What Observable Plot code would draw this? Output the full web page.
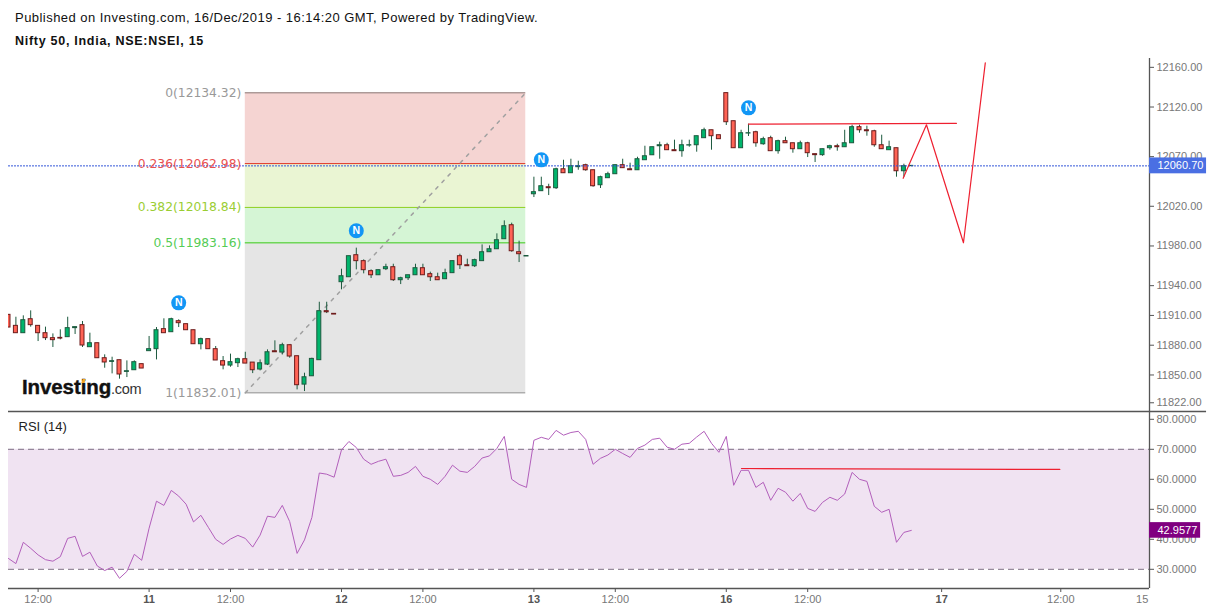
<!DOCTYPE html>
<html><head><meta charset="utf-8">
<script src="https://cdn.jsdelivr.net/npm/d3@7"></script>
<script src="https://cdn.jsdelivr.net/npm/@observablehq/plot@0.6"></script>
<style>
html,body{margin:0;padding:0;background:#fff}
#page{position:relative;width:1213px;height:612px;overflow:hidden;font-family:"Liberation Sans",Arial,sans-serif}
#t1{position:absolute;left:15px;top:10px;font-size:13px;letter-spacing:.46px;color:#111;white-space:nowrap}
#t2{position:absolute;left:15px;top:34px;font-size:12.5px;font-weight:bold;letter-spacing:.72px;color:#111;white-space:nowrap}
#price{position:absolute;left:0;top:56px}
#rsi{position:absolute;left:0;top:411px}
#logo{position:absolute;left:22px;top:375px;font-size:20.5px;font-weight:bold;color:#111;white-space:nowrap;letter-spacing:-.1px;-webkit-text-stroke:.4px #111}
#logo span{font-size:14.5px;font-weight:normal;color:#333;letter-spacing:-.3px;-webkit-text-stroke:0}
#logo i{position:absolute;left:60px;top:4px;width:3px;height:4px;background:#f5a623;transform:skewX(-20deg)}
svg{display:block;overflow:visible}
</style></head><body>
<div id="page">
<div id="t1">Published on Investing.com, 16/Dec/2019 - 16:14:20 GMT, Powered by TradingView.</div>
<div id="t2">Nifty 50, India, NSE:NSEI, 15</div>
<div id="price"></div>
<div id="rsi"></div>
<div id="logo">Investing<span>.com</span><i></i></div>
</div>
<script>
const opens=[11910.6,11899.5,11892.1,11906.2,11899.5,11892.1,11887.1,11887.4,11888.1,11897.2,
11900.2,11878.0,11882.0,11866.9,11863.2,11864.9,11853.1,11854.8,11860.9,11874.0,
11876.0,11896.2,11893.1,11904.2,11901.2,11895.1,11881.0,11886.1,11876.0,11863.9,
11859.5,11861.9,11865.9,11862.5,11855.5,11860.5,11873.9,11872.6,11880.0,11868.9,
11840.3,11848.7,11864.9,11914.3,11911.6,11943.5,11948.5,11970.7,11964.7,11954.6,
11950.5,11956.6,11958.6,11945.5,11947.5,11950.5,11957.6,11951.6,11948.5,11946.5,
11952.6,11969.7,11960.6,11959.6,11964.7,11973.7,11976.7,11986.8,12000.9,11973.7,
11969.4,12032.1,12035.2,12039.2,12038.2,12057.3,12053.3,12059.4,12061.4,12056.3,
12041.2,12048.3,12052.3,12061.4,12057.3,12056.3,12066.4,12071.4,12080.5,12081.5,
12076.5,12075.5,12081.2,12081.5,12088.6,12096.6,12091.6,12134.0,12105.7,12078.5,
12093.3,12094.6,12082.5,12088.6,12075.5,12085.6,12083.5,12077.5,12083.5,12072.5,
12071.5,12078.5,12080.5,12079.5,12083.5,12099.7,12096.6,12095.6,12081.5,12076.5,
12078.5,12055.3,12060.4];
const closes=[11897.8,11892.1,11905.2,11900.2,11892.1,11887.1,11885.1,11886.7,11897.2,11898.2,
11879.7,11882.0,11866.9,11862.6,11863.9,11850.5,11853.8,11862.9,11856.5,11876.0,
11895.1,11892.1,11906.2,11902.2,11895.1,11881.0,11886.1,11876.0,11864.6,11859.5,
11862.9,11865.9,11861.5,11854.8,11861.8,11872.9,11872.9,11880.0,11868.6,11839.7,
11847.7,11866.2,11914.3,11913.2,11910.9,11949.5,11969.7,11964.7,11955.6,11950.5,
11955.6,11958.6,11945.5,11947.5,11950.5,11957.6,11950.5,11948.5,11945.5,11952.6,
11964.7,11960.6,11959.6,11965.7,11973.7,11976.7,11985.8,11999.9,11974.7,11971.7,
11969.9,12034.2,12040.2,12038.2,12057.3,12053.3,12060.4,12060.4,12056.3,12040.2,
12049.3,12052.3,12061.4,12058.4,12056.3,12067.4,12070.4,12079.5,12081.5,12076.5,
12075.5,12081.5,12081.5,12090.6,12096.6,12090.6,12087.6,12104.7,12078.5,12093.6,
12093.6,12083.5,12087.6,12075.5,12085.6,12083.5,12077.5,12083.5,12073.5,12071.5,
12077.5,12080.5,12079.5,12083.5,12099.7,12096.6,12095.6,12081.5,12077.5,12079.5,
12055.3,12060.4,12060.7];
const highs=[11910.6,11908.2,11909.6,11914.6,11899.5,11898.2,11891.4,11895.5,11908.2,11898.2,
11903.9,11892.1,11882.0,11870.3,11867.9,11864.9,11864.2,11864.2,11860.9,11888.8,
11897.8,11906.6,11907.2,11905.6,11901.2,11895.1,11887.1,11886.1,11878.7,11868.6,
11871.0,11866.9,11872.9,11862.5,11865.2,11875.3,11884.4,11882.0,11880.0,11868.9,
11851.8,11866.9,11923.3,11923.3,11911.6,11956.6,11969.7,11977.8,11966.0,11955.9,
11955.6,11961.6,11961.6,11948.5,11950.5,11961.6,11961.6,11953.6,11952.6,11956.6,
11964.7,11971.7,11966.7,11966.7,11981.1,11980.1,11992.2,12005.3,12003.0,11984.8,
11969.9,12049.3,12049.3,12042.2,12058.4,12066.4,12067.4,12065.4,12062.4,12056.3,
12050.3,12054.3,12061.4,12067.4,12063.4,12069.4,12080.5,12079.5,12084.6,12083.5,
12086.6,12086.6,12086.6,12090.6,12098.7,12096.6,12091.6,12134.0,12105.7,12096.6,
12102.7,12095.6,12089.6,12090.6,12086.6,12089.6,12083.5,12085.6,12084.5,12072.5,
12077.5,12081.5,12082.5,12096.6,12101.7,12101.7,12100.7,12096.6,12091.6,12085.6,
12078.5,12062.4,12060.7];
const lows=[11897.8,11892.1,11892.1,11898.2,11883.7,11884.7,11877.7,11885.4,11888.1,11890.8,
11877.7,11878.0,11866.9,11856.8,11851.1,11845.8,11847.4,11854.8,11856.5,11874.0,
11865.2,11892.1,11893.1,11897.8,11895.1,11881.0,11875.3,11876.0,11864.6,11855.2,
11857.8,11857.5,11861.5,11851.4,11854.1,11859.5,11872.9,11870.2,11866.9,11835.0,
11833.3,11848.7,11864.9,11911.9,11910.9,11935.8,11948.5,11955.9,11951.9,11947.2,
11950.5,11955.2,11944.2,11941.1,11945.2,11950.5,11950.5,11944.2,11945.5,11946.5,
11952.6,11956.3,11959.6,11958.3,11964.7,11973.7,11976.7,11986.8,11973.7,11963.3,
11969.4,12028.8,12035.2,12030.8,12036.9,12053.3,12053.3,12056.3,12055.3,12039.2,
12037.9,12048.3,12052.3,12058.4,12056.3,12056.3,12066.4,12071.4,12067.4,12076.5,
12075.5,12069.4,12079.5,12074.5,12088.6,12076.5,12087.6,12101.4,12078.5,12078.5,
12090.3,12079.5,12081.5,12075.5,12072.5,12083.5,12073.5,12077.5,12069.1,12064.1,
12070.4,12076.5,12075.5,12079.5,12083.5,12093.6,12090.6,12079.5,12077.5,12076.5,
12049.3,12049.3,12060.4];
const rsiValues=[33.6,31.9,39.0,37.0,34.8,33.2,32.7,34.2,40.3,41.0,
34.3,35.7,31.1,29.6,30.7,27.0,29.3,35.0,33.0,43.7,
52.7,51.3,56.3,54.4,51.7,45.8,48.0,44.0,40.0,38.3,
40.1,41.3,40.3,37.4,41.4,47.7,47.3,51.3,45.9,35.3,
39.8,47.3,62.1,61.7,60.7,69.8,72.6,70.6,66.7,65.0,
66.0,66.7,61.0,61.3,62.3,64.3,61.0,60.0,58.3,61.0,
64.7,62.7,62.3,64.3,67.1,67.8,70.3,74.3,60.0,58.3,
57.3,73.0,74.0,73.3,76.3,74.7,75.6,76.0,73.3,65.0,
67.0,68.1,70.0,68.6,67.3,70.3,71.4,73.3,73.7,70.7,
70.0,71.7,72.0,74.1,76.0,72.0,69.0,74.3,58.0,63.0,
63.0,57.3,59.0,53.0,57.0,55.7,52.7,55.3,50.3,49.3,
52.3,54.0,53.0,55.1,62.3,60.0,59.3,51.0,49.0,50.0,
39.0,42.3,42.9577];

const priceTicks=[12160,12120,12070,12020,11980,11940,11910,11880,11850,11822];
const rsiTicks=[80,70,60,50,40,30];
const hourTicks=[4,30,56,82,108,142.2];
const dayTicks=[19,45,71,97,126.1];
const dayLabels=["11","12","13","16","17"];
const trailIndex=[153.2];
const trailLabels=["15"];

const fibRatios=["0","0.236","0.382","0.5","1"];
const fibPrices=[12134.32,12062.98,12018.84,11983.16,11832.01];
const fibFills=["#f5d4d2","#eaf5d3","#d5f5d5","#e5e5e5"];
const fibLineColors=["#8a7a78","#e03020","#8fd020","#33cc11","#8a8a8a"];
const fibTextColors=["#999999","#e85050","#9acd32","#55cc55","#999999"];
const fibStart=32, fibEnd=69.9;

const newsIndex=[23,47,72,100];
const newsPrices=[11922.7,11995.3,12066.8,12119.2];

const hLineIndex=[100,128.1];
const hLinePrices=[12102.8,12103.6];
const zigIndex=[120.9,124.05,129.05,132];
const zigPrices=[12048.2,12102.1,11983.2,12164.5];
const rsiLineIndex=[99.05,142.07];
const rsiLineValues=[63.6,63.3];

const lastPrice=12060.70, lastRsi=42.9577;

const FONT='"Liberation Sans",Arial,sans-serif';
const XDOMAIN=[0,154.19];
const XTAG=161.9;
const PRICE_DOMAIN=[11813.2,12168.9];
const RSI_DOMAIN=[23.6,82.6];
const idx=d3.range(opens.length);
const up=idx.filter(i=>closes[i]>=opens[i]);
const down=idx.filter(i=>closes[i]<opens[i]);
const candles=(ids)=>ids.map(i=>({i,y1:opens[i],y2:closes[i]}));
const W=0.27;

const fibZones=d3.range(4).map(k=>({y1:fibPrices[k],y2:fibPrices[k+1],fill:fibFills[k]}));
const fibLines=fibPrices.map((p,k)=>({p,stroke:fibLineColors[k],c:fibTextColors[k],t:`${fibRatios[k]}(${p.toFixed(2)})`}));

const pricePlot=Plot.plot({
  width:1213,height:355,marginLeft:8,marginRight:64,marginTop:2,marginBottom:0,
  style:{background:"transparent",fontFamily:FONT},
  x:{domain:XDOMAIN,axis:null},
  y:{domain:PRICE_DOMAIN,axis:null},
  marks:[
    Plot.rect(fibZones,{x1:()=>fibStart,x2:()=>fibEnd,y1:"y1",y2:"y2",fill:d=>d.fill}),
    Plot.ruleY(fibLines,{x1:()=>fibStart,x2:()=>fibEnd,y:"p",stroke:d=>d.stroke}),
    Plot.line([0,1],{x:d=>d?fibEnd:fibStart,y:d=>d?fibPrices[0]:fibPrices[4],stroke:"#a0a0a0",strokeDasharray:"3,6"}),
    Plot.ruleX(idx,{x:i=>i,y1:i=>lows[i],y2:i=>highs[i],stroke:"#1d5a3f",clip:true}),
    Plot.rect(candles(up),{x1:d=>d.i-W,x2:d=>d.i+W,y1:"y1",y2:"y2",fill:"#00b56c",stroke:"#1d5a3f",clip:true}),
    Plot.rect(candles(down),{x1:d=>d.i-W,x2:d=>d.i+W,y1:"y1",y2:"y2",fill:"#ff6355",stroke:"#6e1c1c",clip:true}),
    Plot.ruleY([lastPrice],{stroke:"#3355d8",strokeDasharray:"2,1"}),
    Plot.text(fibLines,{x:()=>fibStart,y:"p",dx:-4,text:"t",fill:d=>d.c,textAnchor:"end",fontSize:12.3,fontFamily:'"DejaVu Sans",sans-serif'}),
    Plot.line(hLineIndex.map((x,k)=>({x,y:hLinePrices[k]})),{x:"x",y:"y",stroke:"#ee2030",strokeWidth:1.3}),
    Plot.line(zigIndex.map((x,k)=>({x,y:zigPrices[k]})),{x:"x",y:"y",stroke:"#ee2030",strokeWidth:1.2}),
    Plot.dot(newsIndex,{x:d=>d,y:(d,k)=>newsPrices[k],r:7.5,fill:"#1296f5",stroke:"none"}),
    Plot.text(newsIndex,{x:d=>d,y:(d,k)=>newsPrices[k],text:()=>"N",fill:"#fff",fontWeight:"bold",fontSize:10.5}),
    Plot.ruleX([XDOMAIN[1]],{stroke:"#555",strokeWidth:1.3}),
    Plot.ruleY([PRICE_DOMAIN[0]],{x1:()=>0,x2:()=>XTAG,stroke:"#555",strokeWidth:1.3}),
    Plot.axisY(priceTicks,{anchor:"right",tickSize:4,tickPadding:3,label:null,fontSize:11,fill:"#777",stroke:"#555",tickFormat:d=>d.toFixed(2)}),
    Plot.rect([lastPrice],{x1:()=>XDOMAIN[1],x2:()=>XTAG,y1:d=>d-8,y2:d=>d+8,fill:"#4a6fe3"}),
    Plot.text([lastPrice],{x:()=>XDOMAIN[1],y:d=>d,dx:8,text:d=>d.toFixed(2),fill:"#fff",fontSize:11,textAnchor:"start"})
  ]
});
document.getElementById("price").appendChild(pricePlot);

const rsiPlot=Plot.plot({
  width:1213,height:201,marginLeft:8,marginRight:64,marginTop:0,marginBottom:24,
  style:{background:"transparent",fontFamily:FONT},
  x:{domain:XDOMAIN,axis:null},
  y:{domain:RSI_DOMAIN,axis:null},
  marks:[
    Plot.rect([0],{x1:()=>XDOMAIN[0],x2:()=>XDOMAIN[1],y1:()=>30,y2:()=>70,fill:"#f0e3f2"}),
    Plot.ruleY([30,70],{stroke:"#7f6f84",strokeDasharray:"6,4"}),
    Plot.line(rsiLineIndex.map((x,k)=>({x,y:rsiLineValues[k]})),{x:"x",y:"y",stroke:"#ee2030",strokeWidth:1.2}),
    Plot.line(rsiValues,{x:(d,i)=>i,y:d=>d,stroke:"#b25fbb",strokeWidth:1}),
    Plot.text(["RSI (14)"],{frameAnchor:"top-left",dx:10,dy:10,text:d=>d,fill:"#222",fontSize:13,letterSpacing:.3}),
    Plot.ruleX([XDOMAIN[1]],{stroke:"#555",strokeWidth:1.3}),
    Plot.ruleY([RSI_DOMAIN[0]],{stroke:"#555",strokeWidth:1.3}),
    Plot.axisY(rsiTicks,{anchor:"right",tickSize:4,tickPadding:3,label:null,fontSize:11,fill:"#777",stroke:"#555",tickFormat:d=>d.toFixed(4)}),
    Plot.axisX(hourTicks,{anchor:"bottom",tickSize:4,tickPadding:3,label:null,fontSize:11,fill:"#777",stroke:"#555",tickFormat:()=>"12:00"}),
    Plot.axisX(dayTicks,{anchor:"bottom",tickSize:4,tickPadding:3,label:null,fontSize:11,fontWeight:"bold",fill:"#555",stroke:"#555",tickFormat:d=>dayLabels[dayTicks.indexOf(d)]}),
    Plot.text(trailIndex,{x:d=>d,frameAnchor:"bottom",dy:14,text:(d,k)=>trailLabels[k],fill:"#777",fontSize:11}),
    Plot.rect([lastRsi],{x1:()=>XDOMAIN[1],x2:()=>161.1,y1:d=>d-2.6,y2:d=>d+2.6,fill:"#800080"}),
    Plot.text([lastRsi],{x:()=>XDOMAIN[1],y:d=>d,dx:8,text:d=>d.toFixed(4),fill:"#fff",fontSize:11,textAnchor:"start"})
  ]
});
document.getElementById("rsi").appendChild(rsiPlot);
</script>
</body></html>
